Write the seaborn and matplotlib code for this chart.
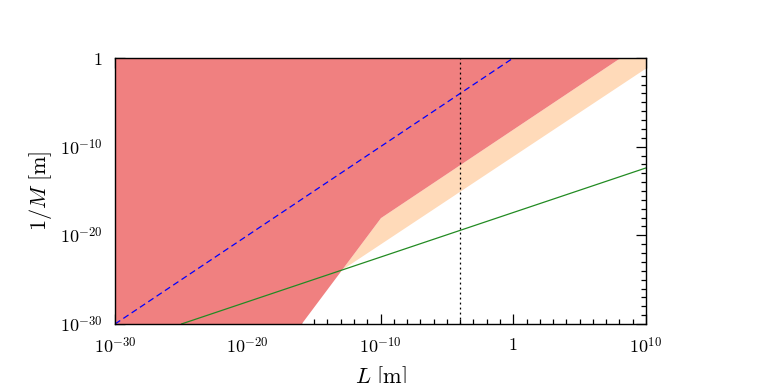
import numpy as np
import pandas as pd
import matplotlib
matplotlib.use("Agg")
import matplotlib.pyplot as plt
import matplotlib.ticker as mticker
import seaborn as sns

# excluded region (red): boundary, in metres
red_x = [1e-30, 1e-16, 1e-10, 1e8, 1e10]
red_y = [1e-30, 1e-30, 1e-18, 1.0, 1.0]

# band (peach): lower edge
band_x = [1.1e-13, 1e10]
band_y = [1.3e-24, 8e-2]

# straight lines
diag_x = [1e-30, 1.0]
diag_y = [1e-30, 1.0]
green_x = [1e-25, 1e10]
green_y = [1e-30, 4e-13]
vline_x = 1e-4

x_ticks = [1e-30, 1e-20, 1e-10, 1.0, 1e10]
x_labels = ["$10^{-30}$", "$10^{-20}$", "$10^{-10}$", "$1$", "$10^{10}$"]
y_ticks = [1e-30, 1e-20, 1e-10, 1.0]
y_labels = ["$10^{-30}$", "$10^{-20}$", "$10^{-10}$", "$1$"]


def main():
    sns.set_style("ticks")
    plt.rcParams["mathtext.fontset"] = "cm"
    plt.rcParams["font.family"] = ["DejaVu Serif"]

    fig = plt.figure(figsize=(7.62, 3.83), dpi=100)
    ax = fig.add_axes([115 / 762, 1 - 324 / 383, 531 / 762, 266 / 383])
    ax.set_xscale("log")
    ax.set_yscale("log")

    # peach band: between the lower edge and the red boundary
    xs = np.logspace(np.log10(band_x[0]), np.log10(band_x[1]), 200)
    top = np.interp(np.log10(xs), np.log10(red_x), np.log10(red_y))
    low = np.interp(np.log10(xs), np.log10(band_x), np.log10(band_y))
    ax.fill_between(xs, 10 ** low, 10 ** top, color="peachpuff", lw=0)

    # red region: above the boundary
    ax.fill_between(red_x, red_y, [1.0] * len(red_x), color="lightcoral", lw=0)

    df_diag = pd.DataFrame({"x": diag_x, "y": diag_y})
    sns.lineplot(data=df_diag, x="x", y="y", ax=ax, color="blue", lw=0.9,
                 linestyle=(0, (5, 3)))
    df_green = pd.DataFrame({"x": green_x, "y": green_y})
    sns.lineplot(data=df_green, x="x", y="y", ax=ax, color="forestgreen", lw=0.9)
    ax.axvline(vline_x, color="black", lw=0.9, linestyle=(0, (1.5, 2.5)))

    ax.set_xlim(1e-30, 1e10)
    ax.set_ylim(1e-30, 1.0)

    ax.xaxis.set_major_locator(mticker.FixedLocator(x_ticks))
    ax.xaxis.set_major_formatter(mticker.FixedFormatter(x_labels))
    ax.yaxis.set_major_locator(mticker.FixedLocator(y_ticks))
    ax.yaxis.set_major_formatter(mticker.FixedFormatter(y_labels))
    ax.xaxis.set_minor_locator(mticker.FixedLocator([10.0 ** k for k in range(-30, 11)]))
    ax.yaxis.set_minor_locator(mticker.FixedLocator([10.0 ** k for k in range(-30, 1)]))
    ax.xaxis.set_minor_formatter(mticker.NullFormatter())
    ax.yaxis.set_minor_formatter(mticker.NullFormatter())

    ax.tick_params(which="both", direction="in", top=True, right=True, width=0.9,
                   color="black", labelcolor="black")
    ax.tick_params(which="major", length=7, labelsize=13, pad=9)
    ax.tick_params(which="minor", length=3.5)
    for s in ax.spines.values():
        s.set_linewidth(1.0)
        s.set_color("black")

    ax.set_xlabel("$L\\ [\\mathrm{m}]$", fontsize=16, labelpad=5, color="black")
    ax.set_ylabel("$1/M\\ [\\mathrm{m}]$", fontsize=16, labelpad=4, color="black")

    fig.savefig("out.png", dpi=100)
    plt.close(fig)


if __name__ == "__main__":
    main()
